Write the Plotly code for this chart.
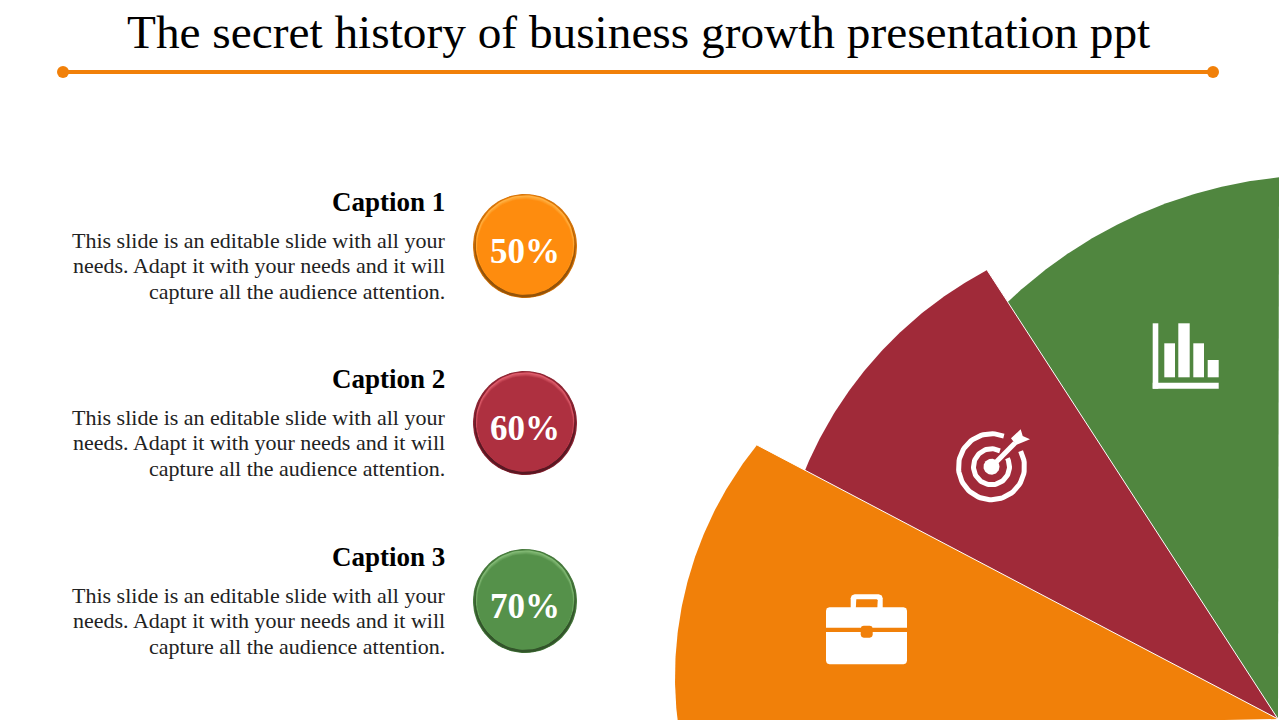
import numpy as np
import plotly.graph_objects as go

# Colours of the three groups
orange = '#F18009'
red = '#A02A39'
green = '#50863F'

# Sectors, drawn back to front: arc start, arc end, arc center, radius
apex = (1278, 719)
sectors = [
    dict(color=green, start=(1279, 177), end=(1000, 309), center=(1325, 635), radius=460),
    dict(color=red, start=(987, 270), end=(802, 478), center=(1174.5, 623.4), radius=400),
    dict(color=orange, start=(757, 445), end=(680, 730), center=(1044, 677), radius=369),
]

# Badges and captions
rows = [
    dict(caption='Caption 1', value='50%', y=246, rim='#7A4508', light='#FFB347', fill='#FE8C0E'),
    dict(caption='Caption 2', value='60%', y=423, rim='#44121C', light='#E0606F', fill='#AE3040'),
    dict(caption='Caption 3', value='70%', y=601, rim='#2A4523', light='#86BC78', fill='#55914A'),
]
body_lines = ['This slide is an editable slide with all your',
              'needs. Adapt it with your needs and it will',
              'capture all the audience attention.']

# Icon pieces
chart_bars = [(1164.3, 1175, 343.3), (1178.3, 1189.7, 323.3), (1193.3, 1204, 343.3), (1207.7, 1218.7, 360)]
chart_axis = [(1152.7, 1158.3, 323.3, 388.7), (1152.7, 1218.7, 382.7, 388.7)]
target = (991.5, 466.7)
target_rings = [(33, 68), (18, 62)]  # radius, angle where the ring starts


# Create an empty list to hold the traces
traces = []


def polygon(xs, ys, color):
    traces.append(go.Scatter(x=xs, y=ys, mode='lines', fill='toself', fillcolor=color,
                             line=dict(width=0), hoverinfo='skip'))


def disc(cx, cy, r, color):
    theta = np.linspace(0, 2 * np.pi, 90)
    polygon(cx + r * np.cos(theta), cy + r * np.sin(theta), color)


def blend(c0, c1, t):
    a = [int(c0[i:i + 2], 16) for i in (1, 3, 5)]
    b = [int(c1[i:i + 2], 16) for i in (1, 3, 5)]
    return 'rgb(%d,%d,%d)' % tuple(a[i] + (b[i] - a[i]) * t for i in range(3))


def rect(x0, x1, y0, y1, color, corner=0):
    if corner == 0:
        polygon([x0, x1, x1, x0, x0], [y0, y0, y1, y1, y0], color)
        return
    xs, ys = [], []
    for cx, cy, a in [(x1 - corner, y0 + corner, -90), (x1 - corner, y1 - corner, 0),
                      (x0 + corner, y1 - corner, 90), (x0 + corner, y0 + corner, 180)]:
        t = np.radians(np.linspace(a, a + 90, 8))
        xs.extend(cx + corner * np.cos(t))
        ys.extend(cy + corner * np.sin(t))
    polygon(xs + xs[:1], ys + ys[:1], color)


# Loop through the sectors
for sector in sectors:
    cx, cy = sector['center']
    a0 = np.arctan2(sector['start'][1] - cy, sector['start'][0] - cx)
    a1 = np.arctan2(sector['end'][1] - cy, sector['end'][0] - cx)
    if a1 > a0:
        a1 = a1 - 2 * np.pi
    theta = np.linspace(a0, a1, 120)
    xs = list(cx + sector['radius'] * np.cos(theta)) + [apex[0]]
    ys = list(cy + sector['radius'] * np.sin(theta)) + [apex[1]]
    polygon(xs + xs[:1], ys + ys[:1], sector['color'])
    # thin white seam on the upper straight edge
    if sector['color'] != green:
        traces.append(go.Scatter(x=[sector['start'][0], apex[0]], y=[sector['start'][1], apex[1]],
                                 mode='lines', line=dict(color='white', width=1), hoverinfo='skip'))

# orange rule with round ends under the title
traces.append(go.Scatter(x=[63, 1213], y=[72, 72], mode='lines+markers',
                         line=dict(color=orange, width=4),
                         marker=dict(color=orange, size=12), hoverinfo='skip'))

# Badges, a soft bevel made of stacked discs
for row in rows:
    disc(525, row['y'], 52, blend(row['fill'], row['rim'], 0.3))
    for t in [0, 0.33, 0.66, 1]:
        disc(525, row['y'] + 1.2 * t, 51.5 - 1.5 * t, blend(row['fill'], row['rim'], 0.3 + 0.5 * t))
    disc(525, row['y'] - 1.5, 49.5, row['fill'])
    disc(525, row['y'] - 1.8, 48.8, row['light'])
    for t in [0.25, 0.5, 0.75, 1]:
        disc(525, row['y'] - 1.8 + 2.8 * t, 48.8 - 1.0 * t, blend(row['light'], row['fill'], t))

# Chart icon
for x0, x1, y0, y1 in chart_axis:
    rect(x0, x1, y0, y1, 'white')
for x0, x1, top in chart_bars:
    rect(x0, x1, top, 377.3, 'white')

# Target icon
for radius, start in target_rings:
    theta = np.radians(np.linspace(-start, -start - (360 - (start - 28)), 80))
    traces.append(go.Scatter(x=target[0] + radius * np.cos(theta), y=target[1] + radius * np.sin(theta),
                             mode='lines', line=dict(color='white', width=5), hoverinfo='skip'))
disc(target[0], target[1], 8, 'white')
traces.append(go.Scatter(x=[target[0], 1015], y=[target[1], 443], mode='lines',
                         line=dict(color='white', width=5), hoverinfo='skip'))
polygon([1020.7, 1011, 1016, 1030, 1022.7, 1020.7], [429.3, 438.3, 445, 439.3, 436, 429.3], 'white')

# Briefcase icon
rect(850.7, 882.7, 594.3, 612, 'white', corner=4)
rect(855.7, 877.7, 599.3, 612, orange, corner=1)
rect(826, 907, 607.3, 664.3, 'white', corner=3.5)
rect(826, 907, 627.7, 632, orange)
rect(860.7, 872.7, 625.7, 637.7, orange, corner=3)

fig = go.Figure(data=traces)

# Title and captions are real text
fig.add_annotation(x=638, y=32, text='The secret history of business growth presentation ppt',
                   showarrow=False, font=dict(family='Liberation Serif', size=47.3, color='black'))
for row in rows:
    fig.add_annotation(x=447, y=row['y'] - 44, text='<b>' + row['caption'] + '</b>', xanchor='right',
                       showarrow=False, font=dict(family='Liberation Serif', size=27, color='black'))
    for i, line in enumerate(body_lines):
        fig.add_annotation(x=447, y=row['y'] - 6 + i * 25.7, text=line, xanchor='right',
                           showarrow=False, font=dict(family='Liberation Serif', size=22, color='#222222'))
    fig.add_annotation(x=525, y=row['y'] + 5, text='<b>' + row['value'] + '</b>',
                       showarrow=False, font=dict(family='Liberation Serif', size=35, color='white'))

# Set the axes to slide pixels
fig.update_layout(xaxis=dict(range=[0, 1280], visible=False),
                  yaxis=dict(range=[720, 0], visible=False),
                  margin=dict(l=0, r=0, t=0, b=0),
                  showlegend=False,
                  plot_bgcolor='white',
                  paper_bgcolor='white')

fig.update_layout(width=1280, height=720)

# Save the plot, the page body must not keep its margin
fig.write_html("out.html", config=dict(displayModeBar=False),
               post_script="document.body.style.margin='0';document.body.style.overflow='hidden';")
